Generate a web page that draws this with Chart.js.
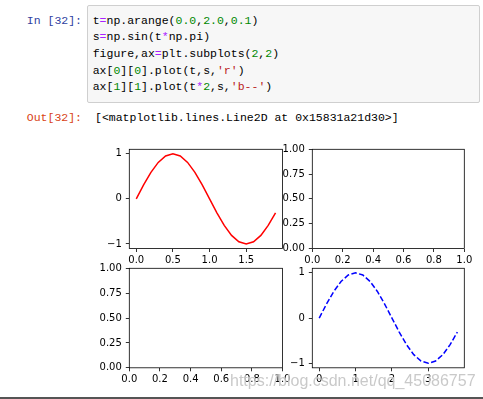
<!DOCTYPE html>
<html>
<head>
<meta charset="utf-8">
<script src="https://cdn.jsdelivr.net/npm/chart.js@4.4.1/dist/chart.umd.min.js"></script>
<style>
body { margin: 0; background: #fff; }
#page { position: relative; width: 483px; height: 399px; overflow: hidden; font-family: "Liberation Mono", "DejaVu Sans Mono", monospace; font-size: 11.5px; }
.prompt { position: absolute; left: 2px; width: 80px; text-align: right; white-space: pre; line-height: 16.7px; }
#inp { top: 12.6px; color: #303F9F; }
#outp { top: 109.6px; color: #D84315; }
#cell { position: absolute; left: 87px; top: 5px; width: 391px; height: 96px; background: #f7f7f7; border: 1px solid #cfcfcf; border-radius: 2px; }
#code { position: absolute; left: 92.7px; top: 12.6px; white-space: pre; line-height: 16.7px; color: #000; }
#out { position: absolute; left: 95px; top: 109.6px; white-space: pre; line-height: 16.7px; color: #000; }
.o { color: #AA22FF; } .n { color: #008800; } .s { color: #BA2121; }
canvas { position: absolute; }
#wm { position: absolute; left: 230px; top: 372px; font-family: "Liberation Sans", Arial, sans-serif; font-size: 16px; line-height: 18px; color: rgba(165,165,165,0.6); text-shadow: 0 0 1px #fff; white-space: pre; }
#bar { position: absolute; left: 0; top: 397px; width: 483px; height: 2px; background: #555; }
</style>
</head>
<body>
<div id="page">
  <div class="prompt" id="inp">In [32]:</div>
  <div id="cell"></div>
  <div id="code">t<span class="o">=</span>np.arange(<span class="n">0.0</span>,<span class="n">2.0</span>,<span class="n">0.1</span>)
s<span class="o">=</span>np.sin(t<span class="o">*</span>np.pi)
figure,ax<span class="o">=</span>plt.subplots(<span class="n">2</span>,<span class="n">2</span>)
ax[<span class="n">0</span>][<span class="n">0</span>].plot(t,s,<span class="s">'r'</span>)
ax[<span class="n">1</span>][<span class="n">1</span>].plot(t<span class="o">*</span><span class="n">2</span>,s,<span class="s">'b--'</span>)</div>
  <div class="prompt" id="outp">Out[32]:</div>
  <div id="out">[&lt;matplotlib.lines.Line2D at 0x15831a21d30&gt;]</div>
  <canvas id="ax00"></canvas>
  <canvas id="ax01"></canvas>
  <canvas id="ax10"></canvas>
  <canvas id="ax11"></canvas>
  <div id="wm">https://blog.csdn.net/qq_45086757</div>
  <div id="bar"></div>
</div>
<script>
// data
const t = [0.0, 0.1, 0.2, 0.3, 0.4, 0.5, 0.6, 0.7, 0.8, 0.9, 1.0, 1.1, 1.2, 1.3, 1.4, 1.5, 1.6, 1.7, 1.8, 1.9];
const t2 = [0.0, 0.2, 0.4, 0.6, 0.8, 1.0, 1.2, 1.4, 1.6, 1.8, 2.0, 2.2, 2.4, 2.6, 2.8, 3.0, 3.2, 3.4, 3.6, 3.8];
const s = [0.0, 0.309, 0.588, 0.809, 0.951, 1.0, 0.951, 0.809, 0.588, 0.309, 0.0, -0.309, -0.588, -0.809, -0.951, -1.0, -0.951, -0.809, -0.588, -0.309];

// ticks
const sTicks = [-1, 0, 1];
const sLabels = ['\u22121', '0', '1'];
const tTicks = [0.0, 0.5, 1.0, 1.5];
const tLabels = ['0.0', '0.5', '1.0', '1.5'];
const t2Ticks = [0, 1, 2, 3];
const t2Labels = ['0', '1', '2', '3'];
const unitXTicks = [0.0, 0.2, 0.4, 0.6, 0.8, 1.0];
const unitXLabels = ['0.0', '0.2', '0.4', '0.6', '0.8', '1.0'];
const unitYTicks = [0.0, 0.25, 0.5, 0.75, 1.0];
const unitYLabels = ['0.00', '0.25', '0.50', '0.75', '1.00'];

// matplotlib style 5% margins
function lim(arr) {
  let lo = Math.min(...arr), hi = Math.max(...arr);
  let m = (hi - lo) * 0.05;
  return [lo - m, hi + m];
}

// spines on all 4 sides
const frame = {
  id: 'frame',
  afterDatasetsDraw(chart) {
    const a = chart.chartArea, c = chart.ctx;
    c.save();
    c.strokeStyle = '#000';
    c.lineWidth = 0.8;
    c.strokeRect(a.left, a.top, a.right - a.left, a.bottom - a.top);
    c.restore();
  }
};

function axisOpts(ticks, labels, pad) {
  return {
    type: 'linear',
    grid: { display: true, drawOnChartArea: false, drawTicks: true, tickLength: 3.5, tickWidth: 0.8, tickColor: '#000', color: '#000', lineWidth: 0.8 },
    border: { display: false },
    ticks: {
      color: '#000', font: { family: 'DejaVu Sans', size: 10 }, padding: pad,
      autoSkip: false, maxRotation: 0, minRotation: 0,
      callback: (v, i) => labels[i]
    },
    afterBuildTicks: sc => { sc.ticks = ticks.map(v => ({ value: v })); }
  };
}

// box = where the axes frame sits on the page
function subplot(id, box, xlim, ylim, xt, xl, yt, yl, datasets) {
  let cv = document.getElementById(id);
  let L = Math.floor(box.l) - 50, T = Math.floor(box.t) - 10;
  let W = Math.ceil(box.r) + 12 - L, H = Math.ceil(box.b) + 26 - T;
  cv.style.left = L + 'px';
  cv.style.top = T + 'px';
  cv.width = W; cv.height = H;
  cv.style.width = W + 'px'; cv.style.height = H + 'px';

  let xs = axisOpts(xt, xl, 2.5);
  xs.position = 'bottom'; xs.min = xlim[0]; xs.max = xlim[1];
  xs.afterFit = sc => { sc.height = T + H - box.b; };
  let ys = axisOpts(yt, yl, 4);
  ys.position = 'left'; ys.min = ylim[0]; ys.max = ylim[1];
  ys.afterFit = sc => { sc.width = box.l - L; };

  new Chart(cv, {
    type: 'scatter',
    data: { datasets: datasets },
    options: {
      responsive: false,
      animation: false,
      events: [],
      layout: { padding: { left: 0, top: box.t - T, right: L + W - box.r, bottom: 0 } },
      plugins: { legend: { display: false }, tooltip: { enabled: false } },
      scales: { x: xs, y: ys }
    },
    plugins: [frame]
  });
}

function pts(xa, ya) {
  return xa.map((x, i) => ({ x: x, y: ya[i] }));
}

// ax[0][0]
subplot('ax00', { l: 129.3, t: 149.3, r: 282.5, b: 248.5 }, lim(t), lim(s), tTicks, tLabels, sTicks, sLabels, [{
  data: pts(t, s), showLine: true, borderColor: '#ff0000', borderWidth: 1.5, pointRadius: 0, tension: 0, fill: false
}]);
// ax[0][1]
subplot('ax01', { l: 312.3, t: 149.3, r: 464.3, b: 248.5 }, [0, 1], [0, 1], unitXTicks, unitXLabels, unitYTicks, unitYLabels, []);
// ax[1][0]
subplot('ax10', { l: 129.3, t: 268.3, r: 282.5, b: 367.8 }, [0, 1], [0, 1], unitXTicks, unitXLabels, unitYTicks, unitYLabels, []);
// ax[1][1]
subplot('ax11', { l: 312.3, t: 268.3, r: 464.3, b: 367.8 }, lim(t2), lim(s), t2Ticks, t2Labels, sTicks, sLabels, [{
  data: pts(t2, s), showLine: true, borderColor: '#0000ff', borderWidth: 1.5, borderDash: [5.55, 2.4], pointRadius: 0, tension: 0, fill: false
}]);
</script>
</body>
</html>
